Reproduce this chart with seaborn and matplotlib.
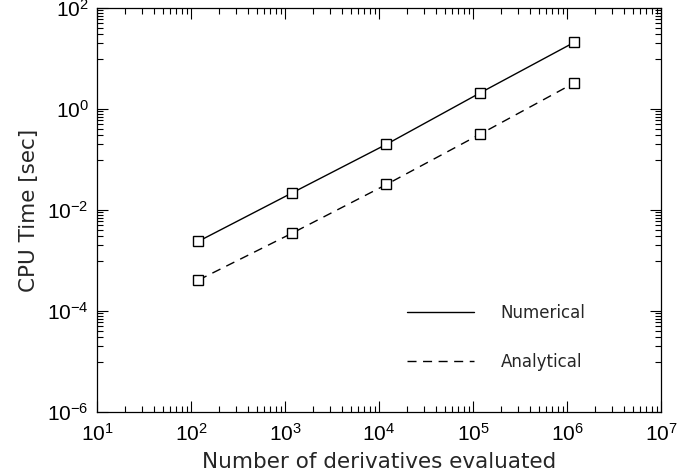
import pandas as pd
import numpy as np
import matplotlib.pyplot as plt
import matplotlib.ticker as mticker
from matplotlib.lines import Line2D
import seaborn as sns

# Values
n_derivs = [120, 1200, 12000, 120000, 1200000]
numerical = [0.0024, 0.022, 0.20, 2.1, 21.0]
analytical = [0.00041, 0.0035, 0.032, 0.32, 3.3]
labels = ["Numerical", "Analytical"]

df = pd.DataFrame({
    "n": n_derivs * 2,
    "t": numerical + analytical,
    "method": [labels[0]] * 5 + [labels[1]] * 5,
})

sns.set_style("ticks")
plt.rcParams["font.family"] = ["Liberation Sans", "DejaVu Sans"]
plt.rcParams["mathtext.fontset"] = "custom"
plt.rcParams["mathtext.rm"] = "Liberation Sans"
plt.rcParams["mathtext.it"] = "Liberation Sans:italic"
plt.rcParams["mathtext.bf"] = "Liberation Sans:bold"

fig = plt.figure(figsize=(6.77, 4.76), dpi=100)
ax = fig.add_axes([97 / 677, 64 / 476, 564 / 677, 404 / 476])

dash = (6.5, 4.7)
styles = {labels[0]: "", labels[1]: dash}
for lab in labels:
    sub = df[df["method"] == lab]
    sns.lineplot(data=sub, x="n", y="t", ax=ax, color="black", lw=1.0,
                 marker="s", markersize=7, mfc="white", mec="black", mew=1.0,
                 dashes=styles[lab], legend=False)

ax.set_xscale("log")
ax.set_yscale("log")
ax.set_xlim(1e1, 1e7)
ax.set_ylim(1e-6, 1e2)

# IDL-like ticks: decades on x, every second decade on y
ax.xaxis.set_major_locator(mticker.FixedLocator([10.0 ** e for e in range(1, 8)]))
xmin = [j * 10.0 ** e for e in range(1, 7) for j in range(2, 10)]
ax.xaxis.set_minor_locator(mticker.FixedLocator(xmin))
ax.yaxis.set_major_locator(mticker.FixedLocator([1e-6, 1e-4, 1e-2, 1e0, 1e2]))
ymin = [j * 10.0 ** e for e in (-5, -3, -1, 1) for j in range(1, 10)]
ax.yaxis.set_minor_locator(mticker.FixedLocator(ymin))
ax.xaxis.set_major_formatter(mticker.LogFormatterSciNotation())
ax.yaxis.set_major_formatter(mticker.LogFormatterSciNotation())
ax.yaxis.set_minor_formatter(mticker.NullFormatter())
ax.xaxis.set_minor_formatter(mticker.NullFormatter())

ax.tick_params(which="both", direction="in", top=True, right=True, width=0.8, colors="black")
ax.tick_params(which="major", length=8, labelsize=15)
ax.tick_params(which="minor", length=4)
ax.tick_params(axis="x", which="major", pad=8)
ax.tick_params(axis="y", which="major", pad=6)
for s in ax.spines.values():
    s.set_linewidth(0.9)
    s.set_color("black")

ax.set_xlabel("Number of derivatives evaluated", fontsize=15.5, family="DejaVu Sans", labelpad=5)
ax.set_ylabel("CPU Time [sec]", fontsize=15.5, family="DejaVu Sans", labelpad=6)

handles = [Line2D([], [], color="black", lw=1.0),
           Line2D([], [], color="black", lw=1.0, dashes=dash)]
ax.legend(handles, labels, loc="center left", bbox_to_anchor=(0.55, 0.184),
          frameon=False, prop={"family": "DejaVu Sans", "size": 12},
          handlelength=4.0, handletextpad=1.6,
          labelspacing=1.85, borderpad=0, borderaxespad=0)

fig.savefig("out.png", dpi=100)
